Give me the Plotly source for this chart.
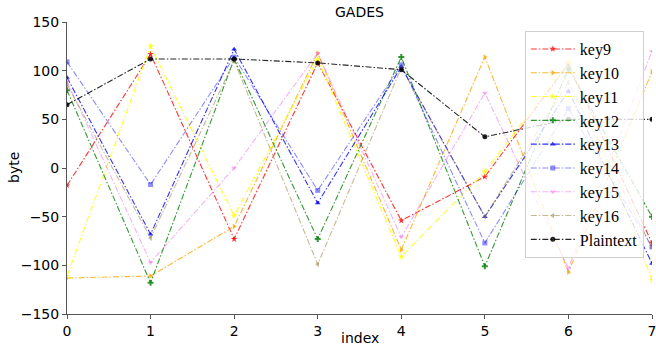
import plotly.graph_objects as go

index = [0, 1, 2, 3, 4, 5, 6, 7]
key9 = [-18, 117, -73, 108, -54, -9, 107, -77]
key10 = [-113, -111, -60, 118, -84, 114, -107, 99]
key11 = [-111, 125, -49, 112, -91, -4, 109, -115]
key12 = [80, -118, 112, -73, 114, -101, 102, -50]
key13 = [93, -68, 122, -36, 104, -50, 79, -98]
key14 = [109, -17, 114, -23, 106, -77, 61, -81]
key15 = [89, -97, 0, 118, -71, 77, -103, 120]
key16 = [86, -72, 110, -99, 103, -50, 88, -82]
plaintext = [65, 112, 112, 108, 101, 32, 50, 50]

series = [
    ("key9", key9, "rgba(255,0,0,0.8)", "star"),
    ("key10", key10, "rgba(255,165,0,0.8)", "triangle-right"),
    ("key11", key11, "rgba(255,255,0,0.85)", "star"),
    ("key12", key12, "rgba(0,128,0,0.8)", "cross"),
    ("key13", key13, "rgba(0,0,255,0.8)", "triangle-up"),
    ("key14", key14, "rgba(0,0,255,0.45)", "square"),
    ("key15", key15, "rgba(238,100,238,0.5)", "triangle-down"),
    ("key16", key16, "rgba(150,130,60,0.55)", "triangle-left"),
    ("Plaintext", plaintext, "rgba(0,0,0,0.85)", "circle"),
]

fig = go.Figure()
for name, vals, color, sym in series:
    fig.add_trace(go.Scatter(
        x=index, y=vals, name=name, mode="lines+markers",
        line=dict(color=color, width=1.1, dash="6px,2px,1.5px,2px"),
        marker=dict(symbol=sym, size=5, color=color, line=dict(width=0)),
    ))

axis_common = dict(showgrid=False, zeroline=False, showline=True, linecolor="#555",
                   ticks="outside", ticklen=4, tickcolor="#555", automargin=False,
                   tickfont=dict(size=14), ticklabeloverflow="allow")

fig.update_layout(
    width=656, height=352,
    margin=dict(l=67, r=4, t=22, b=38),
    plot_bgcolor="white", paper_bgcolor="white",
    font=dict(family="DejaVu Sans", size=14, color="black"),
    title=dict(text="GADES", x=(67 + 652) / 2 / 656, xanchor="center",
               y=1 - 12 / 352, yanchor="middle", font=dict(size=14)),
    xaxis=dict(range=[0, 7], dtick=1, **axis_common),
    yaxis=dict(range=[-150, 150], dtick=50, **axis_common),
    legend=dict(x=0.986, y=0.969, xanchor="right", yanchor="top",
                bgcolor="rgba(255,255,255,0.8)", bordercolor="#d0d0d0", borderwidth=1,
                font=dict(family="Liberation Serif", size=16), tracegroupgap=0,
                itemwidth=44),
    showlegend=True,
    annotations=[
        dict(text="index", xref="paper", yref="paper", x=0.5, y=-(338 - 314) / 292,
             xanchor="center", yanchor="middle", showarrow=False, font=dict(size=14)),
        dict(text="byte", xref="paper", yref="paper", x=-(67 - 14) / 585, y=0.5,
             xanchor="center", yanchor="middle", textangle=-90, showarrow=False,
             font=dict(size=14)),
    ],
)

fig.write_html("out.html")
